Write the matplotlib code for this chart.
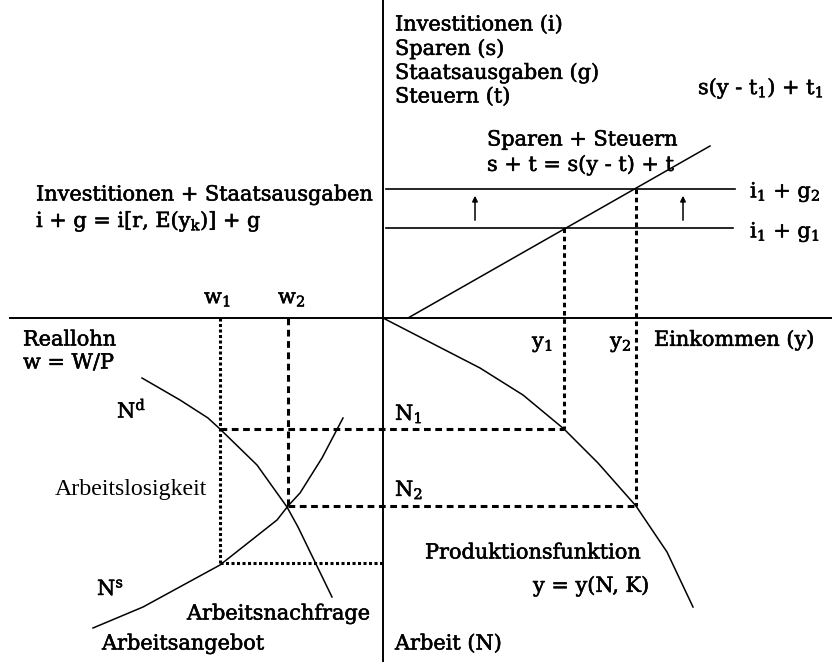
import matplotlib.pyplot as plt
import matplotlib.patheffects as pe

plt.rcParams['font.family'] = ['DejaVu Serif']
plt.rcParams['mathtext.fontset'] = 'dejavuserif'

# Kurven (Bildkoordinaten in Pixel, y nach unten)
spar_x = [408, 710]
spar_y = [318, 146]
prod_x = [383, 480, 523, 564, 598, 636, 667, 693]
prod_y = [318, 368, 395, 429, 463, 506, 552, 607]
nd_x = [142, 180, 208, 220, 257, 287, 298, 332]
nd_y = [378, 400, 418, 429, 465, 507, 527, 597]
ns_x = [93, 143, 220, 277, 288, 300, 322, 343]
ns_y = [628, 607, 565, 520, 506, 493, 458, 418]

# Gleichgewichtswerte
y1, y2 = 564, 636
w1, w2 = 220, 288
n1, n2 = 429, 506
ig1, ig2 = 228, 189
unten = 563
ox, oy = 383, 318

fig = plt.figure(figsize=(8.32, 6.62), dpi=100)
ax = fig.add_axes([0, 0, 1, 1])
ax.set_xlim(0, 832)
ax.set_ylim(662, 0)
ax.axis('off')

k = 'black'
# Achsen
ax.plot([ox, ox], [0, 662], color=k, lw=1.4)
ax.plot([10, 832], [oy, oy], color=k, lw=1.4)

# i + g Linien
ax.plot([386, 735], [ig2, ig2], color=k, lw=1.2)
ax.plot([386, 733], [ig1, ig1], color=k, lw=1.2)
for ax_x in [475, 683]:
    ax.annotate('', xy=(ax_x, 193), xytext=(ax_x, 223),
                arrowprops=dict(arrowstyle='-|>', color=k, lw=1.1, mutation_scale=8))

# Kurven
ax.plot(spar_x, spar_y, color=k, lw=1.1)
ax.plot(prod_x, prod_y, color=k, lw=1.1)
ax.plot(nd_x, nd_y, color=k, lw=1.1)
ax.plot(ns_x, ns_y, color=k, lw=1.1)

ds = dict(color=k, lw=2.2, dashes=(1.5, 1.2))
dd = dict(color=k, lw=2.2, dashes=(2.2, 1.5))
dp = dict(color=k, lw=2.2, dashes=(1, 0.8))
ax.plot([y1, y1], [ig1, n1], **ds)
ax.plot([y2, y2], [ig2, n2], **ds)
ax.plot([w1, w1], [oy, unten], **dp)
ax.plot([w2, w2], [oy, n2], **dd)
ax.plot([w1, y1], [n1, n1], **dd)
ax.plot([w2, y2], [n2, n2], **dd)
ax.plot([w1, ox], [unten, unten], **dp)

fs = 15
fett = [pe.withStroke(linewidth=0.4, foreground=k)]
def txt(x, y, s, size=fs):
    ax.text(x, y, s, fontsize=size, ha='left', va='center', color=k,
            path_effects=fett)

txt(395, 25, 'Investitionen (i)')
txt(395, 49, 'Sparen (s)')
txt(395, 73, 'Staatsausgaben (g)')
txt(395, 97, 'Steuern (t)')
txt(698, 88, 's(y - t$_1$) + t$_1$')
txt(487, 140, 'Sparen + Steuern')
txt(487, 165, 's + t = s(y - t) + t')
txt(750, 192, 'i$_1$ + g$_2$')
txt(750, 232, 'i$_1$ + g$_1$')
txt(36, 195, 'Investitionen + Staatsausgaben')
txt(36, 221, 'i + g = i[r, E(y$_\\mathrm{k}$)] + g')
txt(204, 299, 'w$_1$')
txt(278, 299, 'w$_2$')
txt(23, 340, 'Reallohn')
txt(23, 363, 'w = W/P')
txt(117, 410, 'N$^\\mathrm{d}$')
ax.text(55, 489, 'Arbeitslosigkeit', fontsize=17.2, family='Liberation Serif',
        ha='left', va='center', color=k)
txt(97, 589, 'N$^\\mathrm{s}$')
txt(187, 614, 'Arbeitsnachfrage')
txt(102, 644, 'Arbeitsangebot')
txt(395, 644, 'Arbeit (N)')
txt(395, 414, 'N$_1$')
txt(395, 490, 'N$_2$')
txt(532, 344, 'y$_1$')
txt(610, 344, 'y$_2$')
txt(654, 340, 'Einkommen (y)')
txt(425, 553, 'Produktionsfunktion')
txt(533, 586, 'y = y(N, K)')

fig.savefig('out.png', dpi=100)
